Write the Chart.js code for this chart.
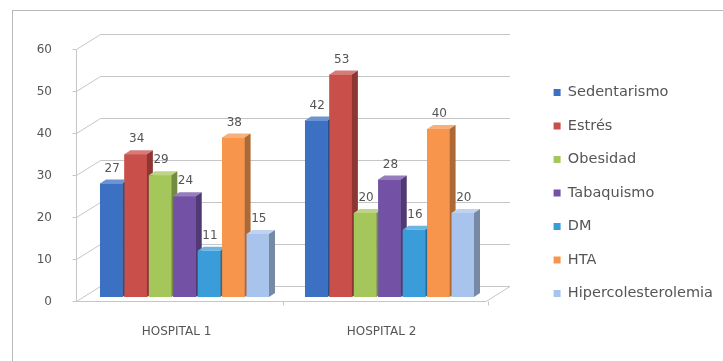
<!DOCTYPE html>
<html>
<head>
<meta charset="utf-8">
<script src="https://cdn.jsdelivr.net/npm/chart.js@4"></script>
<style>
  html, body { margin: 0; padding: 0; background: #fff; }
  #wrap { width: 723px; height: 361px; }
</style>
</head>
<body>
<div id="wrap"><canvas id="chart"></canvas></div>
<script>
'use strict';

// Data per risk factor, one value per hospital
var hospitals = ['HOSPITAL 1', 'HOSPITAL 2'];
var sedentarismo = [27, 42];
var estres = [34, 53];
var obesidad = [29, 20];
var tabaquismo = [24, 28];
var dm = [11, 16];
var hta = [38, 40];
var hipercolesterolemia = [15, 20];
var yTicks = [0, 10, 20, 30, 40, 50, 60];

var seriesNames = ['Sedentarismo', 'Estrés', 'Obesidad', 'Tabaquismo', 'DM', 'HTA', 'Hipercolesterolemia'];
var seriesValues = [sedentarismo, estres, obesidad, tabaquismo, dm, hta, hipercolesterolemia];
var seriesColors = ['#3c70c2', '#c94f4b', '#a5c65b', '#7352a6', '#3a9cd8', '#f6954b', '#a9c4ec'];

// Depth of the walls and of the bars (pseudo 3D look)
var WALL_DX = 24, WALL_DY = 15, TICK_SHIFT = 4;
var BAR_DX = 6, BAR_DY = 4;
var GRID_COLOR = '#c6c6c6';
var TEXT_COLOR = '#555';
var FONT = 'DejaVu Sans';

var shade = function(hex, amt) {
  var n = parseInt(hex.slice(1), 16);
  var f = function(c) {
    return Math.round(amt < 0 ? c * (1 + amt) : c + (255 - c) * amt);
  };
  return 'rgb(' + f(n >> 16) + ',' + f((n >> 8) & 255) + ',' + f(n & 255) + ')';
};

/**
 * Frame, side wall, back wall grid, floor, bar faces and value labels.
 */
var wallPlugin = {
  id: 'wall3d',
  beforeDraw: function(chart) {
    var ctx = chart.ctx;
    ctx.save();
    ctx.strokeStyle = '#b8b8b8';
    ctx.lineWidth = 1;
    ctx.strokeRect(12.5, 10.5, chart.width, chart.height);
    ctx.restore();
  },
  beforeDatasetsDraw: function(chart) {
    var ctx = chart.ctx;
    var y = chart.scales.y;
    var area = chart.chartArea;
    var fx = area.left - 6 + 0.5;
    var bx = fx + WALL_DX;
    var rx = area.right + 18;
    var frontY = function(v) {
      return Math.round(y.getPixelForValue(v) + TICK_SHIFT) + 0.5;
    };
    var top = frontY(yTicks[yTicks.length - 1]);
    var bot = frontY(yTicks[0]);

    ctx.save();
    ctx.strokeStyle = GRID_COLOR;
    ctx.lineWidth = 1;
    ctx.beginPath();
    yTicks.forEach(function(v) {
      var fy = frontY(v);
      ctx.moveTo(fx - 4, fy);
      ctx.lineTo(fx, fy);
      ctx.lineTo(bx, fy - WALL_DY);
      ctx.lineTo(rx, fy - WALL_DY);
    });
    // front edge of the side wall
    ctx.moveTo(fx, top);
    ctx.lineTo(fx, bot);
    // floor
    ctx.moveTo(fx, bot);
    ctx.lineTo(rx - WALL_DX, bot);
    ctx.lineTo(rx, bot - WALL_DY);
    // category separators on the floor edge
    for (var i = 1; i <= hospitals.length; i++) {
      var sx = Math.round(area.left + (area.right - area.left) * i / hospitals.length - 4) + 0.5;
      ctx.moveTo(sx, bot);
      ctx.lineTo(sx, bot + 4);
    }
    ctx.stroke();
    ctx.restore();
  },
  afterDatasetsDraw: function(chart) {
    var ctx = chart.ctx;
    var n = chart.data.datasets.length;

    // repaint bars left to right so each side face hides behind its right neighbour
    ctx.save();
    for (var i = 0; i < n; i++) {
      var color = seriesColors[i];
      chart.getDatasetMeta(i).data.forEach(function(el) {
        el.draw(ctx);
        var p = el.getProps(['x', 'y', 'base', 'width'], true);
        var l = p.x - p.width / 2, r = p.x + p.width / 2;
        ctx.fillStyle = shade(color, 0.25);
        ctx.beginPath();
        ctx.moveTo(l, p.y);
        ctx.lineTo(l + BAR_DX, p.y - BAR_DY);
        ctx.lineTo(r + BAR_DX, p.y - BAR_DY);
        ctx.lineTo(r, p.y);
        ctx.closePath();
        ctx.fill();
        ctx.fillStyle = shade(color, -0.3);
        ctx.beginPath();
        ctx.moveTo(r, p.y);
        ctx.lineTo(r + BAR_DX, p.y - BAR_DY);
        ctx.lineTo(r + BAR_DX, p.base - BAR_DY);
        ctx.lineTo(r, p.base);
        ctx.closePath();
        ctx.fill();
      });
    }
    ctx.restore();

    // value labels above the bars
    ctx.save();
    ctx.font = '12px "' + FONT + '"';
    ctx.fillStyle = TEXT_COLOR;
    ctx.textAlign = 'center';
    ctx.textBaseline = 'bottom';
    chart.data.datasets.forEach(function(ds, i) {
      chart.getDatasetMeta(i).data.forEach(function(el, j) {
        ctx.fillText(String(ds.data[j]), el.x + 1, el.y - 9);
      });
    });
    ctx.restore();
  }
};

var datasets = seriesNames.map(function(name, i) {
  return {
    label: name,
    data: seriesValues[i],
    backgroundColor: seriesColors[i],
    borderWidth: 0,
    categoryPercentage: 0.834,
    barPercentage: 0.92
  };
});

var legendWidth = 190;

new Chart(document.getElementById('chart'), {
  type: 'bar',
  data: { labels: hospitals, datasets: datasets },
  plugins: [wallPlugin],
  options: {
    responsive: true,
    maintainAspectRatio: false,
    animation: false,
    layout: { padding: { top: 25, left: 0, right: 0, bottom: 0 } },
    plugins: {
      tooltip: { enabled: false },
      legend: {
        position: 'right',
        maxWidth: legendWidth,
        labels: {
          boxWidth: 7,
          boxHeight: 7,
          padding: 19,
          color: TEXT_COLOR,
          font: { family: FONT, size: 14.5 }
        }
      }
    },
    scales: {
      x: {
        grid: { display: false },
        border: { display: false },
        ticks: { color: TEXT_COLOR, font: { family: FONT, size: 12 }, padding: 20, labelOffset: -8 },
        afterFit: function(s) { s.height = 64; }
      },
      y: {
        min: yTicks[0],
        max: yTicks[yTicks.length - 1],
        grid: { display: false },
        border: { display: false },
        ticks: { color: TEXT_COLOR, font: { family: FONT, size: 12 }, padding: 22, labelOffset: 5 },
        afterBuildTicks: function(s) {
          s.ticks = yTicks.map(function(v) { return { value: v }; });
        },
        afterFit: function(s) { s.width = 82; }
      },
      topPad: {
        type: 'category',
        position: 'top',
        grid: { display: false },
        border: { display: false },
        ticks: { display: false },
        afterFit: function(s) { s.height = 20; }
      },
      rightPad: {
        type: 'linear',
        position: 'right',
        grid: { display: false },
        border: { display: false },
        ticks: { display: false },
        afterFit: function(s) { s.width = Math.max(0, 723 - 492 - s.chart.legend.width); }
      }
    }
  }
});
</script>
</body>
</html>
